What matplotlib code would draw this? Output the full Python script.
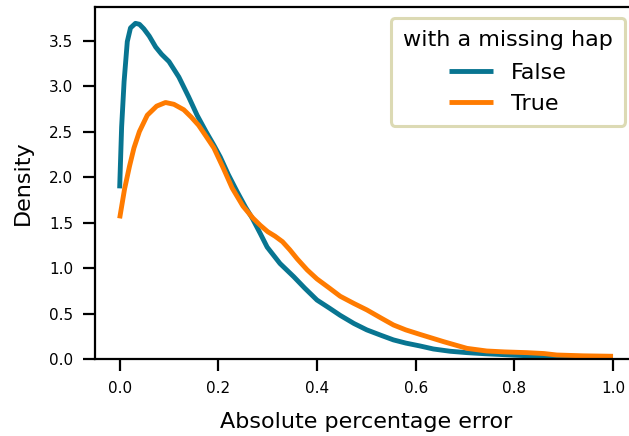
import matplotlib
matplotlib.use("Agg")
import matplotlib.pyplot as plt

# Density curves of absolute percentage error, split by missing-hap status
x_false = [0, 0.004, 0.009, 0.0155, 0.022, 0.032, 0.04, 0.049, 0.06, 0.073, 0.085,
           0.1, 0.12, 0.14, 0.157, 0.175, 0.191, 0.204, 0.22, 0.238, 0.255, 0.269,
           0.285, 0.299, 0.325, 0.353, 0.375, 0.40, 0.425, 0.447, 0.475, 0.501,
           0.53, 0.555, 0.58, 0.609, 0.636, 0.67, 0.704, 0.74, 0.771, 0.8, 0.839,
           0.9, 0.95, 1.0]
y_false = [1.876, 2.55, 3.05, 3.49, 3.64, 3.69, 3.68, 3.63, 3.55, 3.43, 3.35,
           3.27, 3.10, 2.88, 2.68, 2.50, 2.35, 2.22, 2.03, 1.84, 1.67, 1.546,
           1.38, 1.23, 1.05, 0.904, 0.78, 0.648, 0.56, 0.48, 0.39, 0.32,
           0.26, 0.21, 0.175, 0.143, 0.11, 0.085, 0.07, 0.058, 0.05, 0.042, 0.033,
           0.027, 0.023, 0.02]

x_true = [0, 0.01, 0.02, 0.029, 0.04, 0.056, 0.075, 0.093, 0.11, 0.13, 0.145,
          0.16, 0.175, 0.191, 0.21, 0.228, 0.25, 0.27, 0.285, 0.30, 0.315, 0.33,
          0.345, 0.36, 0.38, 0.40, 0.425, 0.447, 0.475, 0.501, 0.53, 0.555, 0.58,
          0.609, 0.657, 0.704, 0.744, 0.78, 0.825, 0.86, 0.886, 0.94, 1.0]
y_true = [1.546, 1.87, 2.12, 2.32, 2.5, 2.68, 2.78, 2.82, 2.80, 2.74, 2.66,
          2.57, 2.45, 2.32, 2.10, 1.88, 1.68, 1.55, 1.47, 1.40, 1.35, 1.29,
          1.20, 1.10, 0.98, 0.88, 0.78, 0.69, 0.61, 0.54, 0.45, 0.374, 0.32,
          0.27, 0.19, 0.117, 0.088, 0.078, 0.07, 0.06, 0.044, 0.035, 0.03]

series_labels = ["False", "True"]
series_colors = ["#087591", "#ff7b00"]

x_ticks = [0.0, 0.2, 0.4, 0.6, 0.8, 1.0]
y_ticks = [0.0, 0.5, 1.0, 1.5, 2.0, 2.5, 3.0, 3.5]

fig = plt.figure(figsize=(6.29, 4.36), dpi=100)
ax = fig.add_axes([0.151, 0.1766, 0.8628, 0.8074])

ax.plot(x_false, y_false, color=series_colors[0], lw=3.5, label=series_labels[0],
        solid_capstyle="butt", solid_joinstyle="round")
ax.plot(x_true, y_true, color=series_colors[1], lw=3.5, label=series_labels[1],
        solid_capstyle="butt", solid_joinstyle="round")

ax.set_xlim(-0.05, 1.05)
ax.set_ylim(0, 3.87)
ax.set_xticks(x_ticks)
ax.set_yticks(y_ticks)
ax.set_xticklabels([f"{v:.1f}" for v in x_ticks])
ax.set_yticklabels([f"{v:.1f}" for v in y_ticks])

for sp in ax.spines.values():
    sp.set_linewidth(1.6)
ax.tick_params(axis="both", direction="out", length=8.5, width=1.6,
               labelsize=11, pad=7)

ax.set_xlabel("Absolute percentage error", fontsize=16, labelpad=12)
ax.set_ylabel("Density", fontsize=16, labelpad=12)

leg = ax.legend(title="with a missing hap", loc="upper right",
                bbox_to_anchor=(0.977, 0.969), fontsize=16, title_fontsize=16,
                frameon=True, fancybox=True, framealpha=1,
                handlelength=2.0, borderpad=0.55, labelspacing=0.5,
                borderaxespad=0)
leg.get_frame().set_edgecolor("#dcdab4")
leg.get_frame().set_linewidth(2.2)
leg._legend_box.sep = 9

fig.savefig("out.png", dpi=100)
